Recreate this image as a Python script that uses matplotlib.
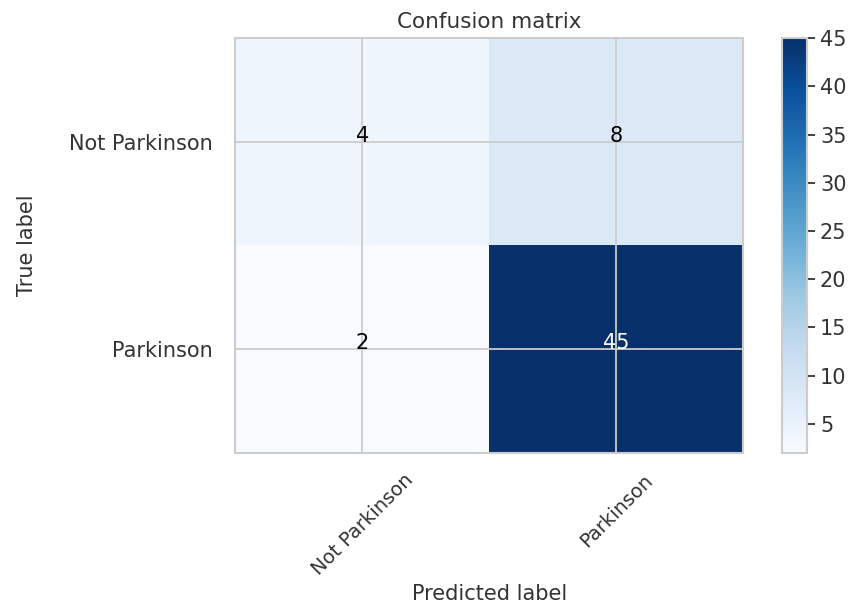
import matplotlib
matplotlib.use("Agg")
import matplotlib.pyplot as plt
import numpy as np
import seaborn as sns

# class names and confusion counts (rows = true, cols = predicted)
classes = ["Not Parkinson", "Parkinson"]
row_not_parkinson = [4, 8]
row_parkinson = [2, 45]

sns.set_style("whitegrid")
plt.rcParams["font.family"] = ["DejaVu Sans"]

cm = np.array([row_not_parkinson, row_parkinson])
txt = "#333333"

fig = plt.figure(figsize=(8.59, 6.06), dpi=100)
ax = fig.add_axes([0.274, 0.253, 0.591, 0.684])
cax = fig.add_axes([0.910, 0.253, 0.030, 0.684])

im = ax.imshow(cm, interpolation="nearest", cmap=plt.cm.Blues, aspect="auto")
ax.set_title("Confusion matrix", fontsize=15.5, color=txt, pad=7)
cb = fig.colorbar(im, cax=cax)
cb.ax.tick_params(labelsize=15, colors=txt, length=6, width=1.3, pad=3)
cb.outline.set_edgecolor("#cccccc")
cb.outline.set_linewidth(1.5)

tick_marks = np.arange(len(classes))
ax.set_xticks(tick_marks)
ax.set_xticklabels(classes, rotation=45, fontsize=14, color=txt)
ax.set_yticks(tick_marks)
ax.set_yticklabels(classes, fontsize=15, color=txt)
ax.tick_params(axis="y", length=0, pad=16)
ax.tick_params(axis="x", length=0, pad=13)
ax.grid(True, color="#cccccc", linewidth=1.3)
for s in ax.spines.values():
    s.set_edgecolor("#cccccc")
    s.set_linewidth(1.5)

# write counts in each cell, white on dark cells
thresh = cm.max() / 2.0
for i in range(cm.shape[0]):
    for j in range(cm.shape[1]):
        ax.text(j, i, format(cm[i, j], "d"), ha="center", fontsize=15,
                color="white" if cm[i, j] > thresh else "black")

ax.set_ylabel("True label", fontsize=15, color=txt)
ax.set_xlabel("Predicted label", fontsize=15, color=txt)
ax.yaxis.set_label_coords(-0.39, 0.5)
ax.xaxis.set_label_coords(0.5, -0.318)

fig.savefig("out.png", dpi=100)
